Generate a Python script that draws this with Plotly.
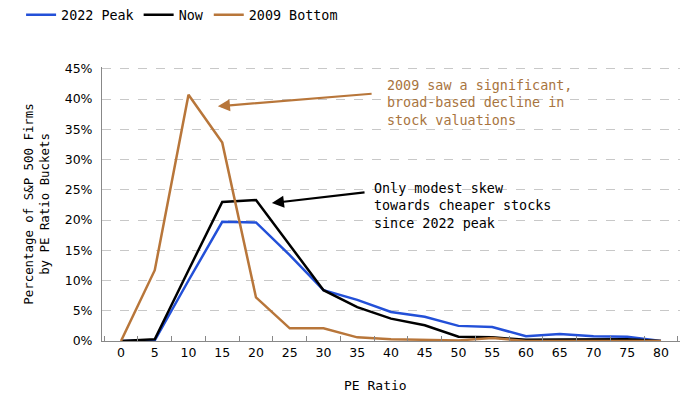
import plotly.graph_objects as go

pe_buckets = ["0", "5", "10", "15", "20", "25", "30", "35", "40", "45", "50", "55", "60", "65", "70", "75", "80"]
peak_2022 = [0.0, 0.1, 10.0, 19.7, 19.6, 14.2, 8.4, 6.8, 4.8, 4.0, 2.5, 2.3, 0.8, 1.15, 0.8, 0.7, 0.0]
now = [0.0, 0.3, 11.7, 23.0, 23.3, 15.8, 8.4, 5.6, 3.7, 2.6, 0.7, 0.6, 0.2, 0.25, 0.25, 0.3, 0.0]
bottom_2009 = [0.0, 11.7, 40.7, 32.8, 7.2, 2.1, 2.1, 0.6, 0.3, 0.2, 0.1, 0.5, 0.0, 0.0, 0.0, 0.0, 0.0]
y_ticks = [0, 5, 10, 15, 20, 25, 30, 35, 40, 45]
y_tick_labels = [f"{v}%" for v in y_ticks]

BLUE = "#2350d8"
ORANGE = "#b8763a"
MONO = "DejaVu Sans Mono"

fig = go.Figure()
fig.add_trace(go.Scatter(x=pe_buckets, y=peak_2022, mode="lines", name="2022 Peak",
                         line=dict(color=BLUE, width=2.5)))
fig.add_trace(go.Scatter(x=pe_buckets, y=now, mode="lines", name="Now",
                         line=dict(color="black", width=2.5)))
fig.add_trace(go.Scatter(x=pe_buckets, y=bottom_2009, mode="lines", name="2009 Bottom",
                         line=dict(color=ORANGE, width=2.5)))

# arrows
fig.add_annotation(x=2.87, y=38.8, ax=7.47, ay=40.9, xref="x", yref="y", axref="x", ayref="y",
                   text="", showarrow=True, arrowhead=2, arrowsize=1.1, arrowwidth=2.2,
                   arrowcolor=ORANGE, standoff=0, startstandoff=0)
fig.add_annotation(x=4.47, y=22.8, ax=7.26, ay=24.6, xref="x", yref="y", axref="x", ayref="y",
                   text="", showarrow=True, arrowhead=2, arrowsize=1.1, arrowwidth=2.2,
                   arrowcolor="black", standoff=0, startstandoff=0)
# texts
fig.add_annotation(x=7.82, y=43.8, xref="x", yref="y", xanchor="left", yanchor="top", align="left",
                   text="2009 saw a significant,<br>broad-based decline in<br>stock valuations",
                   showarrow=False, font=dict(family=MONO, size=13.4, color="#a8743e"))
fig.add_annotation(x=7.44, y=26.75, xref="x", yref="y", xanchor="left", yanchor="top", align="left",
                   text="Only modest skew<br>towards cheaper stocks<br>since 2022 peak",
                   showarrow=False, font=dict(family=MONO, size=13.4, color="black"))
# x-axis title
fig.add_annotation(x=0.474, y=-0.162, xref="paper", yref="paper", xanchor="center", yanchor="middle",
                   text="PE Ratio", showarrow=False, font=dict(family=MONO, size=13, color="black"))

fig.update_layout(
    width=692, height=386,
    margin=dict(l=94, r=20, t=59, b=53, autoexpand=False),
    paper_bgcolor="white", plot_bgcolor="white",
    legend=dict(orientation="h", x=-0.14, xanchor="left", y=1.19, yanchor="middle",
                font=dict(family=MONO, size=13.4, color="black"),
                itemwidth=30, tracegroupgap=0, bgcolor="rgba(0,0,0,0)"),
    xaxis=dict(type="category", range=[-0.563, 16.563], tickson="boundaries",
               ticks="inside", ticklen=5, tickcolor="#888", showgrid=False,
               showline=True, linecolor="#888", linewidth=1, automargin=False,
               tickfont=dict(family="DejaVu Sans", size=12.5, color="black")),
    yaxis=dict(range=[0, 45.3], tickvals=y_ticks, ticktext=y_tick_labels,
               showgrid=True, gridcolor="#c8c8c8", griddash="dash", gridwidth=1,
               showline=True, linecolor="#888", linewidth=1, zeroline=False, automargin=False,
               ticks="", ticklabelstandoff=6,
               tickfont=dict(family="DejaVu Sans", size=12.5, color="black"),
               title=dict(text="Percentage of S&P 500 Firms<br>by PE Ratio Buckets",
                          font=dict(family=MONO, size=12.4, color="black"), standoff=12)),
)

fig.write_html("out.html")
